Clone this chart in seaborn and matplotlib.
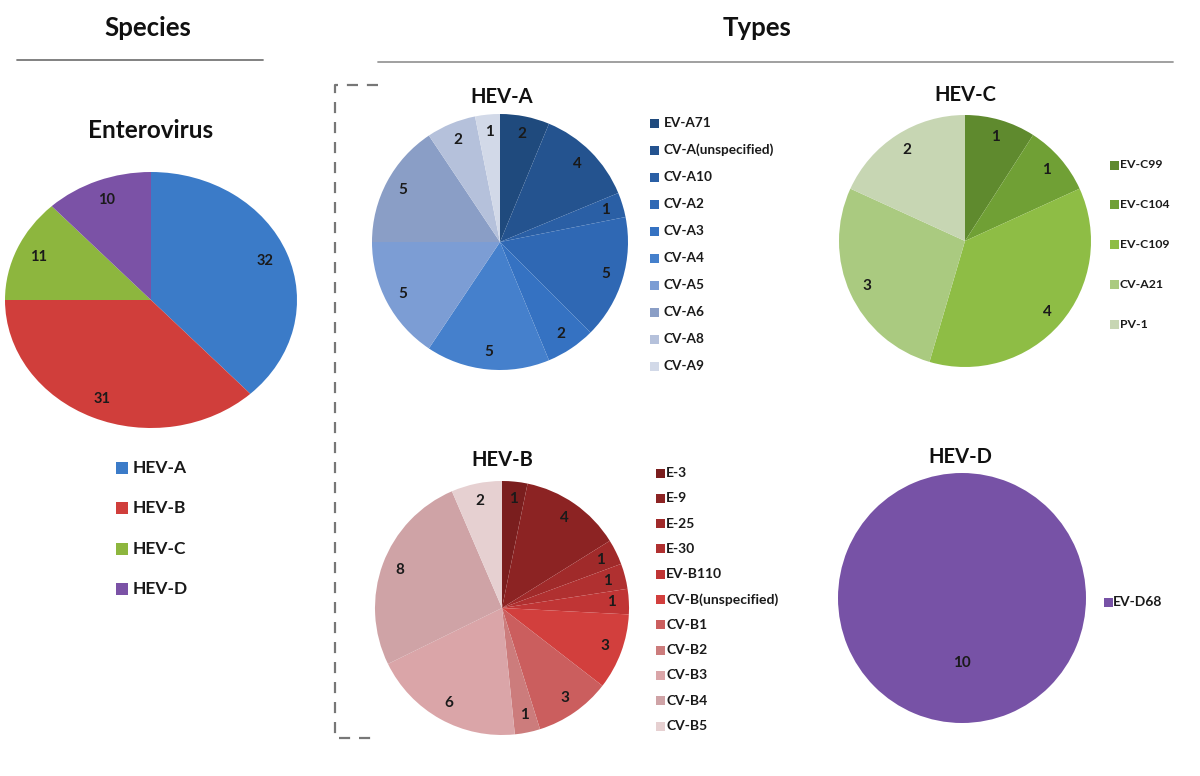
import matplotlib
matplotlib.use("Agg")
import matplotlib.pyplot as plt
import seaborn as sns
from matplotlib.patches import Rectangle
from matplotlib.lines import Line2D

# ---------------- data ----------------
species_labels = ["HEV-A", "HEV-B", "HEV-C", "HEV-D"]
species_values = [32, 31, 11, 10]
species_colors = ["#3B7BC8", "#D03E3B", "#8DB63E", "#7B52A6"]

hev_a_labels = ["EV-A71", "CV-A(unspecified)", "CV-A10", "CV-A2", "CV-A3",
                "CV-A4", "CV-A5", "CV-A6", "CV-A8", "CV-A9"]
hev_a_values = [2, 4, 1, 5, 2, 5, 5, 5, 2, 1]
hev_a_colors = ["#1F4A7D", "#24538F", "#2A5FA5", "#2F68B4", "#3572C2",
                "#4580CC", "#7C9DD4", "#8A9EC6", "#B5C1DB", "#D2D9E8"]

hev_b_labels = ["E-3", "E-9", "E-25", "E-30", "EV-B110", "CV-B(unspecified)",
                "CV-B1", "CV-B2", "CV-B3", "CV-B4", "CV-B5"]
hev_b_values = [1, 4, 1, 1, 1, 3, 3, 1, 6, 8, 2]
hev_b_colors = ["#7A1E1E", "#8C2323", "#A02A2A", "#B03030", "#C03535",
                "#D23F3D", "#CB5E5E", "#CC7C7C", "#DAA5A8", "#CFA3A6", "#E6D0D1"]

hev_c_labels = ["EV-C99", "EV-C104", "EV-C109", "CV-A21", "PV-1"]
hev_c_values = [1, 1, 4, 3, 2]
hev_c_colors = ["#5F8A2E", "#70A035", "#8EBD45", "#AACA80", "#C7D6B3"]

hev_d_labels = ["EV-D68"]
hev_d_values = [10]
hev_d_colors = ["#7752A6"]

# ---------------- style ----------------
sns.set_theme(style="white")
plt.rcParams["font.family"] = ["Lato", "DejaVu Sans"]
plt.rcParams["font.weight"] = "bold"

W, H = 1200, 776
fig = plt.figure(figsize=(W / 100, H / 100), dpi=100)
fig.patch.set_facecolor("white")


def fx(x):
    return x / W


def fy(y):
    return 1 - y / H


def pie_axes(cx, cy, rx, ry, values, colors, pctdist, fs):
    ax = fig.add_axes([(cx - rx) / W, 1 - (cy + ry) / H, 2 * rx / W, 2 * ry / H])
    total = sum(values)
    ax.pie(
        values, colors=sns.color_palette(colors), startangle=90, counterclock=False,
        autopct=lambda p: f"{round(p * total / 100)}", pctdistance=pctdist,
        wedgeprops=dict(linewidth=0), textprops=dict(fontsize=fs, fontweight="bold",
                                                      color="#1a1a1a"))
    ax.set_xlim(-1, 1)
    ax.set_ylim(-1, 1)
    ax.set_aspect("auto")
    ax.axis("off")
    return ax


def legend_col(labels, colors, x_sq, y0, step, sq, x_txt, fs):
    for i, (lab, col) in enumerate(zip(labels, colors)):
        y = y0 + i * step
        fig.patches.append(Rectangle((fx(x_sq), fy(y + sq / 2)), sq / W, sq / H,
                                     transform=fig.transFigure, facecolor=col,
                                     edgecolor="none"))
        fig.text(fx(x_txt), fy(y), lab, fontsize=fs, fontweight="bold",
                 color="#1a1a1a", ha="left", va="center")


# headers
fig.text(fx(148), fy(28), "Species", fontsize=18.5, fontweight="bold", ha="center",
         va="center", color="#111111")
fig.text(fx(757), fy(28), "Types", fontsize=18.5, fontweight="bold", ha="center",
         va="center", color="#111111")
fig.add_artist(Line2D([fx(17), fx(263)], [fy(60), fy(60)], color="#777777", lw=1.3,
                      transform=fig.transFigure))
fig.add_artist(Line2D([fx(378), fx(1173)], [fy(62), fy(62)], color="#999999", lw=1.3,
                      transform=fig.transFigure))
# dashed bracket
fig.add_artist(Line2D([fx(378), fx(335), fx(335), fx(378)],
                      [fy(85), fy(85), fy(738), fy(738)], color="#777777", lw=1.6,
                      linestyle=(0, (5, 4)), transform=fig.transFigure))

# Enterovirus
fig.text(fx(151), fy(130), "Enterovirus", fontsize=17.5, fontweight="bold", ha="center",
         va="center", color="#111111")
pie_axes(151, 300, 146, 128, species_values, species_colors, 0.84, 10.5)
legend_col(species_labels, species_colors, 116, 468, 40.3, 12, 133, 12.5)

# HEV-A
fig.text(fx(502), fy(97), "HEV-A", fontsize=14.5, fontweight="bold", ha="center",
         va="center", color="#111111")
pie_axes(500, 242, 128, 128, hev_a_values, hev_a_colors, 0.86, 11)
legend_col(hev_a_labels, hev_a_colors, 650, 123, 27, 9, 664, 9.8)

# HEV-C
fig.text(fx(965), fy(95), "HEV-C", fontsize=14.5, fontweight="bold", ha="center",
         va="center", color="#111111")
pie_axes(965, 241, 126, 126, hev_c_values, hev_c_colors, 0.86, 11)
legend_col(hev_c_labels, hev_c_colors, 1110, 165, 39.8, 9, 1120, 8.8)

# HEV-B
fig.text(fx(502), fy(460), "HEV-B", fontsize=14.5, fontweight="bold", ha="center",
         va="center", color="#111111")
pie_axes(502, 608, 127, 127, hev_b_values, hev_b_colors, 0.86, 11)
legend_col(hev_b_labels, hev_b_colors, 656, 473, 25.3, 9, 666, 10)

# HEV-D
fig.text(fx(960), fy(457), "HEV-D", fontsize=14.5, fontweight="bold", ha="center",
         va="center", color="#111111")
pie_axes(962, 598, 124, 125, hev_d_values, hev_d_colors, 0.52, 11)
legend_col(hev_d_labels, hev_d_colors, 1104, 602, 0, 9, 1113, 10)

fig.savefig("out.png", dpi=100, facecolor="white")
